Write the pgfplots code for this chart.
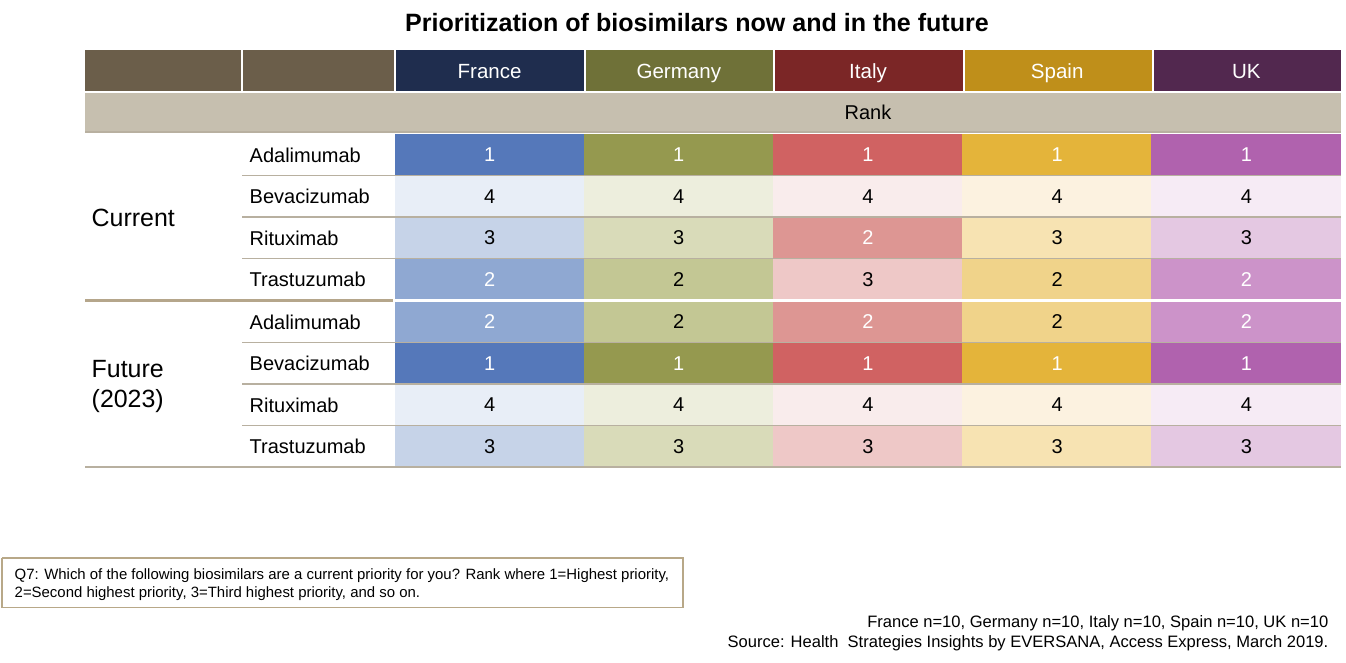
\documentclass[border=0pt]{standalone}
\usepackage{fontspec}
\setmainfont{Liberation Sans}
\usepackage{pgfplots}
\pgfplotsset{compat=1.18}
\usepackage{pgfplotstable}

\definecolor{hdr}{HTML}{6B5E4A}
\definecolor{rankc}{HTML}{C6BFAF}
\definecolor{frh}{HTML}{1F2D4E}
\definecolor{deh}{HTML}{6F7138}
\definecolor{ith}{HTML}{7B2626}
\definecolor{esh}{HTML}{BF8F1A}
\definecolor{ukh}{HTML}{52284F}
\definecolor{fr1}{HTML}{5578BA}\definecolor{fr2}{HTML}{8FA8D2}\definecolor{fr3}{HTML}{C6D3E8}\definecolor{fr4}{HTML}{E8EEF7}
\definecolor{de1}{HTML}{95994F}\definecolor{de2}{HTML}{C3C794}\definecolor{de3}{HTML}{D9DBB9}\definecolor{de4}{HTML}{EDEEDD}
\definecolor{it1}{HTML}{D06262}\definecolor{it2}{HTML}{DD9693}\definecolor{it3}{HTML}{EEC8C7}\definecolor{it4}{HTML}{F9ECEC}
\definecolor{es1}{HTML}{E4B43A}\definecolor{es2}{HTML}{F0D38A}\definecolor{es3}{HTML}{F7E3B2}\definecolor{es4}{HTML}{FCF2E0}
\definecolor{uk1}{HTML}{B062AE}\definecolor{uk2}{HTML}{CC93C9}\definecolor{uk3}{HTML}{E4C8E2}\definecolor{uk4}{HTML}{F6EBF5}
\definecolor{sepc}{HTML}{B8B0A0}
\definecolor{thickc}{HTML}{B5A68B}
\definecolor{boxc}{HTML}{B8A888}

\pgfplotsset{
  colormap={frmap}{color=(fr1) color=(fr2) color=(fr3) color=(fr4)},
  colormap={demap}{color=(de1) color=(de2) color=(de3) color=(de4)},
  colormap={itmap}{color=(it1) color=(it2) color=(it3) color=(it4)},
  colormap={esmap}{color=(es1) color=(es2) color=(es3) color=(es4)},
  colormap={ukmap}{color=(uk1) color=(uk2) color=(uk3) color=(uk4)},
}

\pgfdeclareplotmark{cell}{\pgfpathrectangle{\pgfpoint{-71.3pt}{-15.6pt}}{\pgfpoint{142.6pt}{31.2pt}}\pgfusepath{fill}}

% x y rank
\pgfplotstableread{
x y r
489.6 154.75 1
489.6 196.25 4
489.6 237.75 3
489.6 279.25 2
489.6 321.75 2
489.6 363.25 1
489.6 404.75 4
489.6 446.25 3
}\frtab
\pgfplotstableread{
x y r
678.8 154.75 1
678.8 196.25 4
678.8 237.75 3
678.8 279.25 2
678.8 321.75 2
678.8 363.25 1
678.8 404.75 4
678.8 446.25 3
}\detab
\pgfplotstableread{
x y r
868.0 154.75 1
868.0 196.25 4
868.0 237.75 2
868.0 279.25 3
868.0 321.75 2
868.0 363.25 1
868.0 404.75 4
868.0 446.25 3
}\ittab
\pgfplotstableread{
x y r
1057.2 154.75 1
1057.2 196.25 4
1057.2 237.75 3
1057.2 279.25 2
1057.2 321.75 2
1057.2 363.25 1
1057.2 404.75 4
1057.2 446.25 3
}\estab
\pgfplotstableread{
x y r
1246.4 154.75 1
1246.4 196.25 4
1246.4 237.75 3
1246.4 279.25 2
1246.4 321.75 2
1246.4 363.25 1
1246.4 404.75 4
1246.4 446.25 3
}\uktab

\pgfplotsset{
  cellfill/.style={
    scatter, only marks, mark=cell,
    colormap name=#1,
    point meta=explicit, point meta min=1, point meta max=4,
    scatter/use mapped color={fill=mapped color, draw=none},
  },
  % #1 = ranks below this get white text
  cellnum/.style={
    on layer=axis foreground,
    only marks, mark=none,
    point meta=explicit symbolic,
    nodes near coords={\ifnum\pgfplotspointmeta<#1 \color{white}\else\color{black}\fi\pgfplotspointmeta},
    nodes near coords style={anchor=center, font=\fontsize{15}{18}\selectfont},
  },
  sep/.style={on layer=axis foreground, draw=sepc, line width=1.3pt},
}

\begin{document}
\begin{tikzpicture}
\begin{axis}[
  set layers,
  scale only axis, width=1009.5pt, height=497.25pt,
  xmin=0, xmax=1346, ymin=0, ymax=663, y dir=reverse,
  hide axis, clip=false,
]
% header cells
\addplot[fill=hdr, draw=none] coordinates {(85,50) (240.5,50) (240.5,91.5) (85,91.5)};
\addplot[fill=hdr, draw=none] coordinates {(242.5,50) (393.5,50) (393.5,91.5) (242.5,91.5)};
\addplot[fill=frh, draw=none] coordinates {(395.5,50) (583.5,50) (583.5,91.5) (395.5,91.5)};
\addplot[fill=deh, draw=none] coordinates {(585.5,50) (773,50) (773,91.5) (585.5,91.5)};
\addplot[fill=ith, draw=none] coordinates {(775,50) (962.5,50) (962.5,91.5) (775,91.5)};
\addplot[fill=esh, draw=none] coordinates {(964.5,50) (1152,50) (1152,91.5) (964.5,91.5)};
\addplot[fill=ukh, draw=none] coordinates {(1154,50) (1341,50) (1341,91.5) (1154,91.5)};
% rank row
\addplot[fill=rankc, draw=none] coordinates {(85,93) (1341,93) (1341,131.5) (85,131.5)};
\addplot[sep, line width=1.5pt] coordinates {(85,132.5) (1341,132.5)};

% data cells
\addplot[cellfill=frmap] table[x=x,y=y,meta=r]{\frtab};
\addplot[cellfill=demap] table[x=x,y=y,meta=r]{\detab};
\addplot[cellfill=itmap] table[x=x,y=y,meta=r]{\ittab};
\addplot[cellfill=esmap] table[x=x,y=y,meta=r]{\estab};
\addplot[cellfill=ukmap] table[x=x,y=y,meta=r]{\uktab};

% separators
\addplot[sep] coordinates {(242,175.5) (1341,175.5)};
\addplot[sep] coordinates {(242,217) (1341,217)};
\addplot[sep] coordinates {(242,258.5) (1341,258.5)};
\addplot[sep, draw=white, line width=2.2pt] coordinates {(394,300.3) (1341,300.3)};
\addplot[sep, draw=thickc, line width=2.2pt] coordinates {(85,300.3) (393,300.3)};
\addplot[sep] coordinates {(242,342.5) (1341,342.5)};
\addplot[sep] coordinates {(242,384) (1341,384)};
\addplot[sep] coordinates {(242,425.5) (1341,425.5)};
\addplot[sep, line width=1.5pt] coordinates {(85,467.5) (1341,467.5)};

% rank numbers
\addplot[cellnum=3] table[x=x,y=y,meta=r]{\frtab};
\addplot[cellnum=2] table[x=x,y=y,meta=r]{\detab};
\addplot[cellnum=3] table[x=x,y=y,meta=r]{\ittab};
\addplot[cellnum=2] table[x=x,y=y,meta=r]{\estab};
\addplot[cellnum=3] table[x=x,y=y,meta=r]{\uktab};

% footnote box
\addplot[draw=boxc, line width=0.8pt] coordinates {(2,558) (683,558) (683,607.5) (2,607.5) (2,558)};

% texts
\node[anchor=base, font=\bfseries\fontsize{18.8}{22}\selectfont] at (axis cs:697,31.5) {Prioritization of biosimilars now and in the future};
\begin{scope}[every node/.style={anchor=base, text=white, font=\fontsize{15.4}{18}\selectfont}]
\node at (axis cs:489.6,78.5) {France};
\node at (axis cs:678.8,78.5) {Germany};
\node at (axis cs:868,78.5) {Italy};
\node at (axis cs:1057.2,78.5) {Spain};
\node at (axis cs:1246.4,78.5) {UK};
\end{scope}
\node[anchor=base, font=\fontsize{15}{18}\selectfont] at (axis cs:868,119.5) {Rank};
\begin{scope}[every node/.style={anchor=base west, font=\fontsize{15}{18}\selectfont}]
\node at (axis cs:245,162.3) {Adalimumab};
\node at (axis cs:245,203.8) {Bevacizumab};
\node at (axis cs:245,245.3) {Rituximab};
\node at (axis cs:245,286.8) {Trastuzumab};
\node at (axis cs:245,329.3) {Adalimumab};
\node at (axis cs:245,370.8) {Bevacizumab};
\node at (axis cs:245,412.3) {Rituximab};
\node at (axis cs:245,453.8) {Trastuzumab};
\end{scope}
\begin{scope}[every node/.style={anchor=base west, font=\fontsize{18.7}{22}\selectfont}]
\node at (axis cs:87,226.5) {Current};
\node at (axis cs:87,377.5) {Future};
\node at (axis cs:87,408) {(2023)};
\end{scope}
\begin{scope}[every node/.style={anchor=base west, font=\fontsize{11.2}{13}\selectfont}]
\node at (axis cs:10,580) {Q7: Which of the following biosimilars are a current priority for you? Rank where 1=Highest priority,};
\node at (axis cs:10,598) {2=Second highest priority, 3=Third highest priority, and so on.};
\end{scope}
\begin{scope}[every node/.style={anchor=base east, font=\fontsize{12.4}{14}\selectfont}]
\node at (axis cs:1333,628) {France n=10, Germany n=10, Italy n=10, Spain n=10, UK n=10};
\node at (axis cs:1333,648) {Source: Health\ \ Strategies Insights by EVERSANA,\ Access Express,\ March 2019.};
\end{scope}
\end{axis}
\pgfresetboundingbox
\path[use as bounding box] (current axis.south west) rectangle (current axis.north east);
\end{tikzpicture}
\end{document}
